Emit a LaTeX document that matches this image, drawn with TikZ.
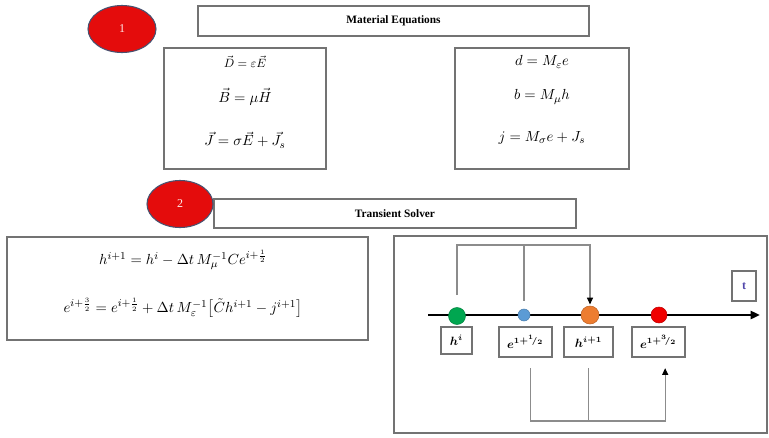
\documentclass[tikz,border=0pt]{standalone}
\usepackage{amsmath}
\usepackage{bm}
\usepackage{fontspec}
\setmainfont{Liberation Serif}
\usepackage{tikz}
\usetikzlibrary{shapes.geometric, arrows.meta}

\definecolor{badgered}{RGB}{228,12,12}
\definecolor{badgeline}{RGB}{72,82,112}
\definecolor{dotgreen}{RGB}{0,166,80}
\definecolor{dotblue}{RGB}{91,155,213}
\definecolor{dotorange}{RGB}{237,125,49}
\definecolor{dotred}{RGB}{240,0,0}
\definecolor{tblue}{RGB}{80,70,170}

\begin{document}
\begin{tikzpicture}[x=0.75pt, y=-0.75pt, >={Triangle[length=5pt, width=4.5pt, color=black]},
    box/.style={draw=black!55, line width=0.8pt, inner sep=0pt},
    badge/.style={ellipse, draw=badgeline, line width=0.8pt, fill=badgered,
        text=red!8, font=\fontsize{9}{10}\selectfont, inner sep=0pt},
    hdr/.style={font=\fontsize{8.5}{10}\selectfont\bfseries},
    eqn/.style={font=\fontsize{11}{13}\selectfont},
    lbl/.style={box, font=\fontsize{9}{10}\selectfont},
    dot/.style={circle, inner sep=0pt},
    conn/.style={draw=black!45, line width=0.8pt}]
    \useasboundingbox (0,0) rectangle (769,437);

    % material equations
    \node[box, hdr, minimum width=293.25pt, minimum height=22.5pt] (matHdr) at (393.5,21) {Material Equations};
    \node[box, minimum width=121.5pt, minimum height=90.75pt] (vecBox) at (245,108.5) {};
    \node[box, minimum width=130.5pt, minimum height=90.75pt] (discBox) at (542,108.5) {};

    \node[eqn, font=\fontsize{9}{10}\selectfont] (eqD) at (245,62) {$\vec{D} = \varepsilon\vec{E}$};
    \node[eqn] (eqB) at (245,97) {$\vec{B} = \mu\vec{H}$};
    \node[eqn] (eqJ) at (245,140) {$\vec{J} = \sigma\vec{E} + \vec{J}_s$};

    \node[eqn] (eqd) at (542,62) {$d = M_{\varepsilon}e$};
    \node[eqn] (eqb) at (542,97) {$b = M_{\mu}h$};
    \node[eqn] (eqj) at (542,138) {$j = M_{\sigma}e + J_s$};

    \node[badge, minimum width=51pt, minimum height=35.25pt] (one) at (122,29) {1};

    % transient solver
    \node[box, hdr, minimum width=271.5pt, minimum height=21.75pt] (solHdr) at (395,213.5) {Transient Solver};
    \node[box, minimum width=270.75pt, minimum height=77.25pt] (updBox) at (187.5,288.5) {};
    \node[box, minimum width=279.75pt, minimum height=147.75pt] (timeBox) at (580.5,334.5) {};

    \node[eqn] (eqH) at (183,260) {$h^{i+1} = h^{i} - \Delta t\, M_{\mu}^{-1} C e^{i+\frac{1}{2}}$};
    \node[eqn] (eqE) at (183,308) {$e^{i+\frac{3}{2}} = e^{i+\frac{1}{2}} + \Delta t\, M_{\varepsilon}^{-1}\bigl[\tilde{C} h^{i+1} - j^{i+1}\bigr]$};

    \node[badge, minimum width=49.5pt, minimum height=35.25pt] (two) at (180,204) {2};

    % time axis
    \coordinate (tStart) at (428,315);
    \coordinate (tEnd) at (760,315);
    \draw[line width=2.2pt, -{Triangle[length=7pt, width=6pt]}] (tStart) -- (tEnd);

    \node[dot, fill=dotgreen, draw=dotgreen!80!black, minimum size=12.75pt] (dotG) at (457,316) {};
    \node[dot, fill=dotblue, draw=dotblue!80!black, minimum size=9pt] (dotB) at (524,315) {};
    \node[dot, fill=dotorange, draw=dotorange!80!black, minimum size=13.5pt] (dotO) at (590,315) {};
    \node[dot, fill=dotred, draw=dotred!80!black, minimum size=12pt] (dotR) at (659,315) {};

    \node[lbl, minimum width=23.25pt, minimum height=20.25pt] (lbH0) at (456.5,340.5) {$\bm{h^{i}}$};
    \node[lbl, minimum width=39.75pt, minimum height=22.5pt] (lbE1) at (525.5,342) {$\bm{e^{1+{}^{1}\!/_{2}}}$};
    \node[lbl, minimum width=36.75pt, minimum height=22.5pt] (lbH1) at (588.5,342) {$\bm{h^{i+1}}$};
    \node[lbl, minimum width=39.75pt, minimum height=22.5pt] (lbE3) at (658.5,342) {$\bm{e^{1+{}^{3}\!/_{2}}}$};

    \node[box, minimum width=18pt, minimum height=22.5pt, text=tblue, font=\fontsize{9}{10}\selectfont\bfseries] (tLbl) at (744,286) {t};

    % update links
    \coordinate (topY) at (0,245);
    \coordinate (botY) at (0,421);
    \coordinate (eFrom) at ([xshift=4pt]lbE1.south);
    \coordinate (eTo) at ([xshift=5pt]lbE3.south);

    \draw[conn, ->, shorten <=9pt, shorten >=1pt] (dotG.north) -- (dotG.north |- topY) -| (dotO.north);
    \draw[conn, shorten <=6pt] (dotB.north) -- (dotB.north |- topY);
    \draw[conn, ->, shorten <=8pt, shorten >=8pt] (eFrom) -- (eFrom |- botY) -| (eTo);
    \draw[conn, shorten <=8pt] (lbH1.south) -- (lbH1.south |- botY);
\end{tikzpicture}
\end{document}
